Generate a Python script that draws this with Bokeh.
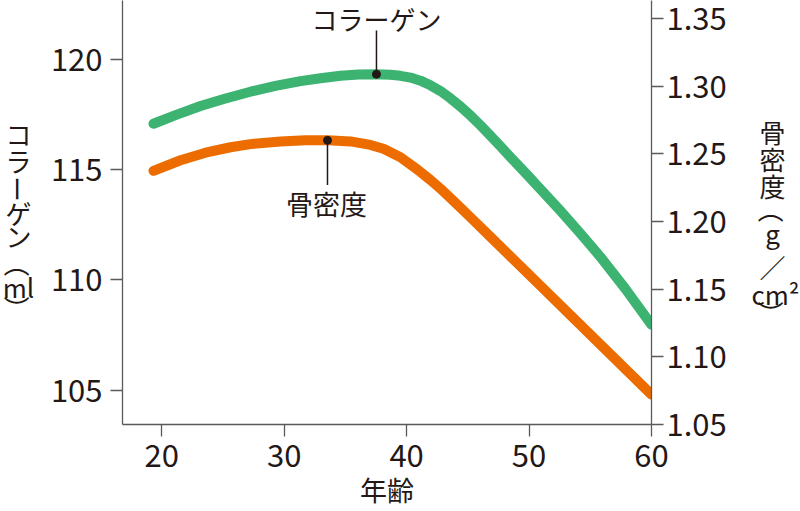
from bokeh.plotting import figure
from bokeh.layouts import row
from bokeh.models import Range1d, LinearAxis, Label, FixedTicker, NumeralTickFormatter
from bokeh.embed import file_html
from bokeh.resources import INLINE

# ---------------- data ----------------
age_collagen = [19.33, 21.13, 23.17, 25.21, 27.25, 29.29, 31.34, 32.97, 34.60, 36.07,
                37.54, 38.68, 39.50, 40.32, 41.13, 41.95, 42.77, 43.58, 44.40, 45.22,
                46.03, 46.85, 47.67, 48.48, 49.71, 50.93, 52.57, 54.20, 55.83, 57.87, 60.0]
collagen_ml = [117.07, 117.46, 117.87, 118.21, 118.52, 118.78, 119.00, 119.13, 119.24, 119.30,
               119.31, 119.29, 119.24, 119.16, 119.02, 118.81, 118.55, 118.22, 117.85, 117.44,
               117.00, 116.53, 116.04, 115.56, 114.84, 114.11, 113.12, 112.10, 111.04, 109.59,
               107.97]

age_bone = [19.33, 21.54, 23.58, 25.62, 27.25, 29.70, 31.74, 33.54, 35.42, 37.05, 38.11,
            39.50, 40.89, 41.95, 42.77, 44.40, 45.46, 46.85, 48.24, 50.93, 55.42, 60.0]
bone_density = [1.2374, 1.2452, 1.2508, 1.2548, 1.2571, 1.2591, 1.2599, 1.2599, 1.2591,
                1.2565, 1.2537, 1.2474, 1.2383, 1.2306, 1.2242, 1.2102, 1.2009, 1.1886,
                1.1763, 1.1525, 1.1127, 1.0721]

collagen_mark = (37.54, 119.31)
bone_mark = (33.54, 1.2599)

x_ticks = [20, 30, 40, 50, 60]
left_ticks = [105, 110, 115, 120]
right_ticks = [1.05, 1.10, 1.15, 1.20, 1.25, 1.30, 1.35]

collagen_name = "コラーゲン"
bone_name = "骨密度"
x_title = "年齢"
# vertical titles: one entry per character; rotated ones are turned 90° clockwise
left_title = ["コ", "ラ", "ー", "ゲ", "ン", "（", "ml", "）"]
left_turn = [0, 0, -90, 0, 0, -90, 0, -90]
right_title = ["骨", "密", "度", "（", "g", "／", "cm²", "）"]
right_turn = [0, 0, 0, -90, 0, 0, 0, -90]

# ---------------- layout / style ----------------
W, H = 800, 511
LW, RW = 45, 60                      # side strips holding the vertical titles
FL, FR, FT, FB = 122, 651, 0, 425    # frame edges in page pixels
X0, X1 = 16.8, 60.0
YL0, YL1 = 103.45, 122.65
YR0, YR1 = 1.05, 1.3632

GREEN = "#3cb371"
ORANGE = "#ed6c00"
INK = "#231815"
AXIS = "#5a5a5a"
FONT = "Noto Sans CJK JP"


def dx(px):
    return X0 + (px - FL) * (X1 - X0) / (FR - FL)


def dyl(py):
    return YL1 - (py - FT) * (YL1 - YL0) / (FB - FT)


def dyr(py):
    return YR1 - (py - FT) * (YR1 - YR0) / (FB - FT)


p = figure(width=W - LW - RW, height=H, x_range=Range1d(X0, X1), y_range=Range1d(YL0, YL1),
           output_backend="svg", toolbar_location=None,
           min_border_left=FL - LW, min_border_right=(W - RW) - FR,
           min_border_top=FT, min_border_bottom=H - FB)
p.title.visible = False
p.outline_line_color = None
p.grid.visible = False
p.background_fill_color = "white"
p.border_fill_color = "white"
p.extra_y_ranges = {"right": Range1d(YR0, YR1)}


def style_axis(ax):
    ax.axis_line_color = AXIS
    ax.axis_line_width = 1.3
    ax.major_tick_line_color = AXIS
    ax.major_tick_line_width = 1.3
    ax.major_tick_out = 12
    ax.major_tick_in = 0
    ax.minor_tick_line_color = None
    ax.major_label_text_font = FONT
    ax.major_label_text_font_size = "31px"
    ax.major_label_text_color = INK
    ax.axis_label_text_font = FONT
    ax.axis_label_text_font_style = "normal"
    ax.axis_label_text_color = INK


xa = p.xaxis[0]
xa.ticker = FixedTicker(ticks=x_ticks)
style_axis(xa)
xa.major_label_standoff = 7
xa.axis_label = x_title
xa.axis_label_text_font_size = "27px"
xa.axis_label_standoff = 0

ya = p.yaxis[0]
ya.ticker = FixedTicker(ticks=left_ticks)
style_axis(ya)
ya.major_label_standoff = 8

ra = LinearAxis(y_range_name="right", ticker=FixedTicker(ticks=right_ticks),
                formatter=NumeralTickFormatter(format="0.00"))
style_axis(ra)
ra.major_label_standoff = 3
p.add_layout(ra, "right")

# curves
p.line(age_bone, bone_density, y_range_name="right", line_color=ORANGE, line_width=10,
       line_cap="round", line_join="round")
p.line(age_collagen, collagen_ml, line_color=GREEN, line_width=10,
       line_cap="round", line_join="round")

# leaders and marker dots
p.segment(x0=[collagen_mark[0]], y0=[collagen_mark[1]], x1=[collagen_mark[0]], y1=[dyl(30)],
          line_color=INK, line_width=1.5)
p.segment(x0=[bone_mark[0]], y0=[bone_mark[1]], x1=[bone_mark[0]], y1=[dyr(185)],
          y_range_name="right", line_color=INK, line_width=1.5)
p.scatter([collagen_mark[0]], [collagen_mark[1]], size=8, color=INK)
p.scatter([bone_mark[0]], [bone_mark[1]], y_range_name="right", size=8, color=INK)


def lab(text, px, py, size="26px"):
    p.add_layout(Label(x=dx(px), y=dyl(py), text=text, text_font=FONT,
                       text_font_size=size, text_color=INK,
                       text_align="center", text_baseline="middle"))


lab(collagen_name, 376, 18, "26px")
lab(bone_name, 326, 203, "27px")


# vertical (tategaki) axis titles in narrow side strips, one Label per character.
# The row aligns the strips' frames with the main frame (page y 0..425), so the
# strip's y range is expressed in page pixels measured from the bottom of the page.
def strip(width, chars, turns, xs, ys):
    s = figure(width=width, height=H, x_range=Range1d(0, width),
               y_range=Range1d(H - FB, H - FT),
               output_backend="svg", toolbar_location=None,
               min_border_left=0, min_border_right=0,
               min_border_top=FT, min_border_bottom=H - FB,
               x_axis_type=None, y_axis_type=None)
    s.title.visible = False
    s.outline_line_color = None
    s.grid.visible = False
    s.background_fill_color = "white"
    s.border_fill_color = "white"
    for ch, a, x, y in zip(chars, turns, xs, ys):
        s.add_layout(Label(x=x, y=H - y, text=ch, text_font=FONT, text_font_size="26px",
                           text_color=INK, text_align="center", text_baseline="middle",
                           angle=a, angle_units="deg"))
    return s


left_y = [133, 160, 189, 213, 236, 264, 287, 309]
left_x = [18] * len(left_title)
right_y = [131, 158, 185, 210, 233, 267, 294, 314]
right_x = [32, 32, 32, 32, 32, 32, 35, 32]

left_strip = strip(LW, left_title, left_turn, left_x, left_y)
right_strip = strip(RW, right_title, right_turn, right_x, right_y)

layout = row(left_strip, p, right_strip, spacing=0)
open("out.html", "w").write(file_html(layout, INLINE))
